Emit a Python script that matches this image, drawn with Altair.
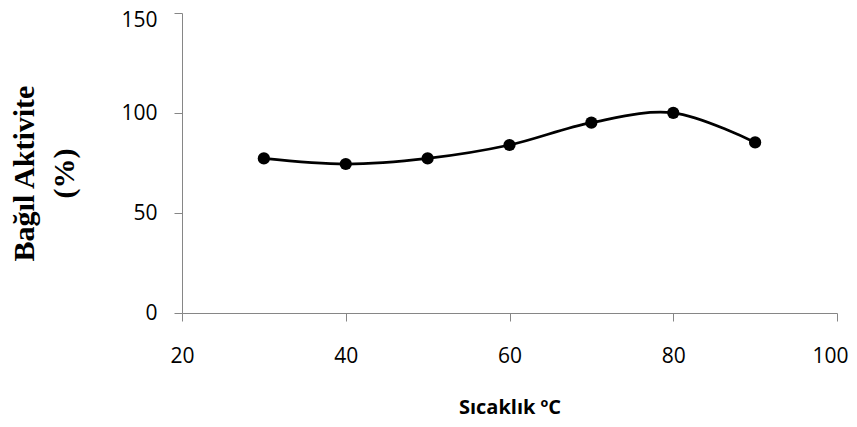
import altair as alt
import pandas as pd

temps = [30, 40, 50, 60, 70, 80, 90]
activity = [77.3, 74.5, 77.3, 84.0, 95.2, 100.1, 85.3]
x_ticks = [20, 40, 60, 80, 100]
y_ticks = [0, 50, 100, 150]

df = pd.DataFrame({"t": temps, "a": activity})

x = alt.X("t:Q", scale=alt.Scale(domain=[20, 100], nice=False),
          axis=alt.Axis(values=x_ticks, title="Sıcaklık ºC", grid=False,
                        domainColor="#868686", tickColor="#868686", tickSize=8,
                        labelFont="Open Sans", labelFontSize=21, labelColor="#000",
                        labelPadding=24, labelFlush=False,
                        labelOffset=alt.condition("datum.value == 100", alt.value(-7), alt.value(0)),
                        titleFont="Open Sans", titleFontSize=20, titleFontWeight="bold",
                        titleColor="#000", titleY=100, titleBaseline="alphabetic"))
y = alt.Y("a:Q", scale=alt.Scale(domain=[0, 150], nice=False),
          axis=alt.Axis(values=y_ticks, title=["Bağıl Aktivite", "(%)"], grid=False,
                        domainColor="#868686", tickColor="#868686", tickSize=8,
                        labelFont="Open Sans", labelFontSize=21, labelColor="#000",
                        labelPadding=17, labelFlush=False,
                        labelOffset=alt.condition("datum.value == 150", alt.value(7), alt.value(0)),
                        titleFont="Liberation Serif", titleFontSize=30, titleFontWeight="bold",
                        titleColor="#000", titleAngle=-90, titleAlign="center",
                        titleBaseline="middle", titleX=-158, titleY=160, titleLineHeight=40))

base = alt.Chart(df)
line = base.mark_line(interpolate="catmull-rom", color="#000", strokeWidth=2.75).encode(x=x, y=y)
pts = base.mark_circle(color="#000", size=150, opacity=1).encode(x=x, y=y)

chart = (line + pts).properties(
    width=655, height=300,
    autosize=alt.AutoSizeParams(type="none"),
    padding={"left": 174, "top": 5, "right": 12, "bottom": 106},
).configure_view(stroke=None)

chart.save("out.html", embed_options={"renderer": "svg", "actions": False})
